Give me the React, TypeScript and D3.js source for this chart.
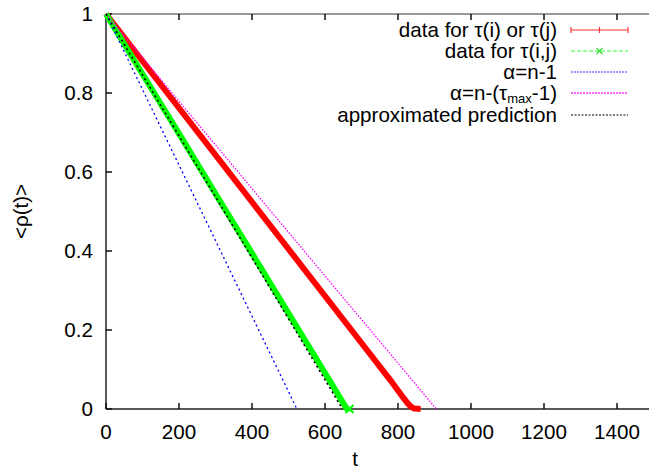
import React from "react";
import * as d3 from "d3";

const W = 649;
const H = 471;

const xTicks = [0, 200, 400, 600, 800, 1000, 1200, 1400];
const yTicks = [0, 0.2, 0.4, 0.6, 0.8, 1];
const yTickLabels = ["0", "0.2", "0.4", "0.6", "0.8", "1"];

const redT = [0, 100, 200, 300, 400, 500, 600, 700, 780, 800, 815, 825, 835, 845, 862];
const redP = [1, 0.881, 0.762, 0.643, 0.524, 0.405, 0.286, 0.167, 0.072, 0.047, 0.028, 0.016, 0.006, 0.001, 0];

const greenT = [0, 100, 200, 300, 400, 500, 600, 650, 660, 667];
const greenP = [1, 0.848, 0.697, 0.545, 0.394, 0.242, 0.091, 0.015, 0, 0];

const blueT = [0, 523];
const blueP = [1, 0];

const magentaT = [0, 905];
const magentaP = [1, 0];

const blackT = [0, 648];
const blackP = [1, 0];

const legendLabels = [
  "data for τ(i) or τ(j)",
  "data for τ(i,j)",
  "α=n-1",
  "α=n-(τmax-1)",
  "approximated prediction",
];

export default function App() {
  const x = d3.scaleLinear().domain([0, 1500]).range([106, 653.5]);
  const y = d3.scaleLinear().domain([0, 1]).range([409, 14]);
  const line = d3
    .line<[number, number]>()
    .x((d) => x(d[0]))
    .y((d) => y(d[1]));
  const zip = (a: number[], b: number[]) => a.map((v, i) => [v, b[i]] as [number, number]);

  const font = "'Liberation Sans', Arial, Helvetica, sans-serif";
  const fs = 20.6;
  const legX = 557;
  const sx0 = 571;
  const sx1 = 628;
  const rowY = [30, 51, 72, 93, 115];

  const gEnd = zip(greenT, greenP)[greenT.length - 1];

  return (
    <svg width={W} height={H} style={{ position: "absolute", left: 0, top: 0, background: "#fff" }}>
      <rect x={0} y={0} width={W} height={H} fill="#fff" />
      {/* border */}
      <line x1={x(0)} x2={W} y1={y(1)} y2={y(1)} stroke="#777" strokeWidth={1.5} />
      <line x1={x(0)} x2={W} y1={y(0)} y2={y(0)} stroke="#222" strokeWidth={1.5} />
      <line x1={x(0)} x2={x(0)} y1={y(0)} y2={y(1)} stroke="#222" strokeWidth={1.5} />
      {/* x ticks */}
      {xTicks.map((t) => (
        <g key={"xt" + t}>
          <line x1={x(t)} x2={x(t)} y1={y(0)} y2={y(0) - 6} stroke="#111" strokeWidth={1.5} />
          <line x1={x(t)} x2={x(t)} y1={y(1)} y2={y(1) + 6} stroke="#111" strokeWidth={1.5} />
          <text x={x(t)} y={439} textAnchor="middle" fontFamily={font} fontSize={fs} fill="#000">
            {t}
          </text>
        </g>
      ))}
      {/* y ticks */}
      {yTicks.map((v, i) => (
        <g key={"yt" + v}>
          <line x1={x(0)} x2={x(0) + 6} y1={y(v)} y2={y(v)} stroke="#111" strokeWidth={1.5} />
          <text x={93} y={y(v) + 7} textAnchor="end" fontFamily={font} fontSize={fs} fill="#000">
            {yTickLabels[i]}
          </text>
        </g>
      ))}
      {/* axis labels */}
      <text x={355} y={466} textAnchor="middle" fontFamily={font} fontSize={fs} fill="#000">
        t
      </text>
      <text
        transform={`translate(28,${y(0.5)}) rotate(-90)`}
        textAnchor="middle"
        fontFamily={font}
        fontSize={fs}
        fill="#000"
      >
        {"<ρ(t)>"}
      </text>

      {/* data */}
      <path d={line(zip(redT, redP)) || ""} fill="none" stroke="#ff0000" strokeWidth={6} strokeLinejoin="round" />
      <path d={line(zip(greenT, greenP)) || ""} fill="none" stroke="#00ff00" strokeWidth={6} strokeLinejoin="round" />
      <g stroke="#00ff00" strokeWidth={2}>
        <line x1={x(gEnd[0]) - 4} x2={x(gEnd[0]) + 4} y1={y(gEnd[1]) - 4} y2={y(gEnd[1]) + 4} />
        <line x1={x(gEnd[0]) - 4} x2={x(gEnd[0]) + 4} y1={y(gEnd[1]) + 4} y2={y(gEnd[1]) - 4} />
      </g>
      <path d={line(zip(blueT, blueP)) || ""} fill="none" stroke="#0000ff" strokeWidth={1.3} strokeDasharray="2,3" />
      <path d={line(zip(magentaT, magentaP)) || ""} fill="none" stroke="#ff00ff" strokeWidth={1.3} strokeDasharray="1.5,1.5" />
      <path d={line(zip(blackT, blackP)) || ""} fill="none" stroke="#000" strokeWidth={1.6} strokeDasharray="2,3" />

      {/* legend */}
      {legendLabels.map((lab, i) => (
        <text key={"lg" + i} x={legX} y={rowY[i] + 7} textAnchor="end" fontFamily={font} fontSize={fs} fill="#000">
          {i === 3 ? (
            <>
              {"α=n-(τ"}
              <tspan fontSize={13} dy={3}>max</tspan>
              <tspan dy={-3}>{"-1)"}</tspan>
            </>
          ) : (
            lab
          )}
        </text>
      ))}
      <g stroke="#ff3333" strokeWidth={1.2}>
        <line x1={sx0} x2={sx1} y1={rowY[0]} y2={rowY[0]} />
        <line x1={sx0} x2={sx0} y1={rowY[0] - 3} y2={rowY[0] + 3} />
        <line x1={sx1} x2={sx1} y1={rowY[0] - 3} y2={rowY[0] + 3} />
        <line x1={(sx0 + sx1) / 2} x2={(sx0 + sx1) / 2} y1={rowY[0] - 3} y2={rowY[0] + 3} />
      </g>
      <line x1={sx0} x2={sx1} y1={rowY[1]} y2={rowY[1]} stroke="#33ff33" strokeWidth={1.2} strokeDasharray="4,2" />
      <g stroke="#33dd33" strokeWidth={1.3}>
        <line x1={(sx0 + sx1) / 2 - 3} x2={(sx0 + sx1) / 2 + 3} y1={rowY[1] - 3} y2={rowY[1] + 3} />
        <line x1={(sx0 + sx1) / 2 - 3} x2={(sx0 + sx1) / 2 + 3} y1={rowY[1] + 3} y2={rowY[1] - 3} />
      </g>
      <line x1={sx0} x2={sx1} y1={rowY[2]} y2={rowY[2]} stroke="#3333ff" strokeWidth={1} strokeDasharray="2,1" />
      <line x1={sx0} x2={sx1} y1={rowY[3]} y2={rowY[3]} stroke="#ff33ff" strokeWidth={1.3} strokeDasharray="2,1" />
      <line x1={sx0} x2={sx1} y1={rowY[4]} y2={rowY[4]} stroke="#000" strokeWidth={1} strokeDasharray="2,1.5" />
    </svg>
  );
}
